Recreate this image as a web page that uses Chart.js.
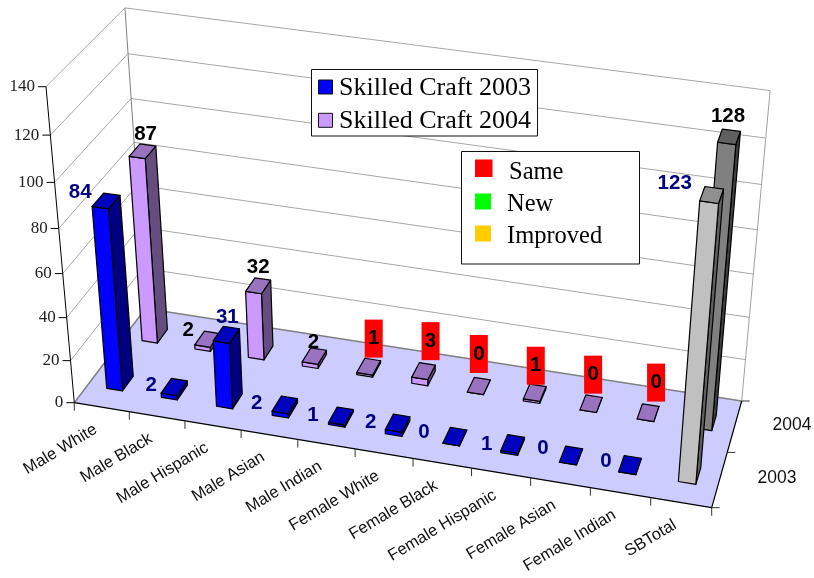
<!DOCTYPE html>
<html>
<head>
<meta charset="utf-8">
<style>body{margin:0;background:#fff}canvas{display:block}</style>
<script src="https://cdn.jsdelivr.net/npm/chart.js@4"></script>
</head>
<body>
<canvas id="myChart" width="814" height="578"></canvas>
<script>
// data
const categories = ["Male White","Male Black","Male Hispanic","Male Asian","Male Indian","Female White","Female Black","Female Hispanic","Female Asian","Female Indian","SBTotal"];
const years = ["2003","2004"];
const craft2003 = [84,2,31,2,1,2,0,1,0,0,123];
const craft2004 = [87,2,32,2,1,3,0,1,0,0,128];
const yTicks = [0,20,40,60,80,100,120,140];
const statusLabels = ["Same","New","Improved"];
const statusColors = ["#FF0000","#00FF00","#FFCC00"];

// colours per bar
const colors2003 = categories.map((c,i) => i == 10 ? "#C0C0C0" : "#0000FF");
const colors2004 = categories.map((c,i) => i == 10 ? "#808080" : "#CC99FF");

// label offsets from the top centre of each bar
const nudge2003 = [[-26,-9],[-23,-2],[1,-17],[-28,-2],[-28,-1],[-27,-1],[-31,-4],[-26,0],[-28,-7],[-24,-4],[-37,-12]];
const nudge2004 = [[3,-17],[-19,-9],[0,-18],[-1,-14],[5,-28],[7,-30],[0,-32],[1,-27],[2,-29],[8,-30],[-1,-20]];
const redFrom = 4, redTo = 9;

// box corners on screen, used to work out the perspective
const O = [74.3,402.7,1], X = [711.7,507.7,1], Y = [46,86.7,1], Z = [145.5,308.5,1];
const XZ = [741.7,401,1], YZ = [123.3,7.3,1], XYZ = [770,85.7,1];

const cross = (p,q) => [p[1]*q[2]-p[2]*q[1], p[2]*q[0]-p[0]*q[2], p[0]*q[1]-p[1]*q[0]];
const dot = (p,q) => p[0]*q[0]+p[1]*q[1]+p[2]*q[2];

// a*X + c*Z - O ~ XZ
const a = dot(cross(Z,XZ),O) / dot(cross(Z,XZ),X);
const c = dot(cross(X,XZ),O) / dot(cross(X,XZ),Z);
const cx = X.map((v,i) => a*v-O[i]);
const cz = Z.map((v,i) => c*v-O[i]);
let cy = [0,0,0];

function proj(u,v,w) {
  const h = [0,1,2].map(i => u*cx[i]+v*cy[i]+w*cz[i]+O[i]);
  return [h[0]/h[2], h[1]/h[2]];
}

// pick the vertical scale that lands closest to the top back corners, right one counts more
let bestErr = Infinity, bestCy = cy;
for (let b = 0.3; b < 3; b += 0.0005) {
  cy = Y.map((v,i) => b*v-O[i]);
  const p = proj(0,1,1), q = proj(1,1,1);
  const err = (p[0]-YZ[0])**2 + (p[1]-YZ[1])**2 + 4*((q[0]-XYZ[0])**2 + (q[1]-XYZ[1])**2);
  if (err < bestErr) { bestErr = err; bestCy = cy; }
}
cy = bestCy;

function shade(hex,k) {
  const r = parseInt(hex.substr(1,2),16), g = parseInt(hex.substr(3,2),16), bl = parseInt(hex.substr(5,2),16);
  return "rgb(" + Math.round(r*k) + "," + Math.round(g*k) + "," + Math.round(bl*k) + ")";
}

function poly(ctx,pts,fill) {
  ctx.beginPath();
  pts.forEach((p,i) => i ? ctx.lineTo(p[0],p[1]) : ctx.moveTo(p[0],p[1]));
  ctx.closePath();
  if (fill) { ctx.fillStyle = fill; ctx.fill(); }
  ctx.stroke();
}

function line(ctx,pts,color,width) {
  ctx.beginPath();
  pts.forEach((p,i) => i ? ctx.lineTo(p[0],p[1]) : ctx.moveTo(p[0],p[1]));
  ctx.strokeStyle = color;
  ctx.lineWidth = width;
  ctx.stroke();
}

const barDepth = 0.15;

const box3d = {
  id: "box3d",
  beforeDatasetsDraw(chart) {
    const ctx = chart.ctx, area = chart.chartArea;
    const xs = chart.scales.x, ys = chart.scales.y, zs = chart.scales.z;
    const nx = p => (p-area.left)/area.width;
    const ny = p => (area.bottom-p)/area.height;
    const nz = val => nx(zs.getPixelForValue(val));
    ctx.save();
    ctx.lineJoin = "round";

    // floor
    ctx.strokeStyle = "rgba(0,0,0,0)";
    poly(ctx,[proj(0,0,0),proj(1,0,0),proj(1,0,1),proj(0,0,1)],"#CCCCFF");

    // grid on the walls
    yTicks.forEach(function(t) {
      const v = ny(ys.getPixelForValue(t));
      line(ctx,[proj(0,v,0),proj(0,v,1),proj(1,v,1)], t == 0 ? "#808080" : "#A6A6A6", t == 0 ? 1.5 : 1);
    });
    line(ctx,[proj(0,0,1),proj(0,1,1)],"#808080",1);
    line(ctx,[proj(1,0,1),proj(1,1,1)],"#A0A0A0",1);

    // axes and ticks
    line(ctx,[proj(0,0,0),proj(0,1,0)],"#000",1);
    line(ctx,[proj(0,0,0),proj(1,0,0),proj(1,0,1)],"#000",1.2);
    ctx.font = "17px 'Liberation Serif'";
    ctx.fillStyle = "#222";
    ctx.textAlign = "right";
    ctx.textBaseline = "middle";
    yTicks.forEach(function(t) {
      const p = proj(0,ny(ys.getPixelForValue(t)),0);
      line(ctx,[p,[p[0]-8,p[1]]],"#000",1);
      ctx.fillText(t,p[0]-11,p[1]);
    });
    for (let i = 0; i <= categories.length; i++) {
      const p = proj(nx(xs.getPixelForValue(i-0.5)),0,0);
      line(ctx,[p,[p[0],p[1]+8]],"#333",1);
    }
    for (let i = 0; i <= years.length; i++) {
      const p = proj(1,0,nz(i-0.5));
      line(ctx,[p,[p[0]+8,p[1]]],"#333",1);
    }
    ctx.font = "16.5px 'Liberation Sans'";
    ctx.fillStyle = "#111";
    categories.forEach(function(name,i) {
      const p = proj(nx(xs.getPixelForValue(i)),0,0);
      ctx.save();
      ctx.translate(p[0]-6,p[1]+21);
      ctx.rotate(-31*Math.PI/180);
      ctx.textAlign = "right";
      ctx.textBaseline = "middle";
      ctx.fillText(name,0,0);
      ctx.restore();
    });
    ctx.font = "17.5px 'Liberation Sans'";
    ctx.textAlign = "left";
    years.forEach(function(y,i) {
      const p = proj(1,0,nz(i));
      ctx.fillText(y,p[0]+38,p[1]-1);
    });

    // bars, back row first
    const tops = [[],[]];
    [1,0].forEach(function(d) {
      const z0 = nz(d)-barDepth/2, z1 = nz(d)+barDepth/2;
      chart.getDatasetMeta(d).data.forEach(function(bar,j) {
        const x0 = nx(bar.x-bar.width/2), x1 = nx(bar.x+bar.width/2);
        const v0 = ny(bar.base), v1 = ny(bar.y);
        const col = chart.data.datasets[d].backgroundColor[j];
        ctx.strokeStyle = "#000";
        ctx.lineWidth = 1.2;
        poly(ctx,[proj(x1,v0,z0),proj(x1,v0,z1),proj(x1,v1,z1),proj(x1,v1,z0)],shade(col,0.5));
        poly(ctx,[proj(x0,v0,z0),proj(x1,v0,z0),proj(x1,v1,z0),proj(x0,v1,z0)],col);
        poly(ctx,[proj(x0,v1,z0),proj(x1,v1,z0),proj(x1,v1,z1),proj(x0,v1,z1)],shade(col,0.75));
        tops[d][j] = proj((x0+x1)/2,v1,(z0+z1)/2);
      });
    });

    // value labels
    ctx.font = "bold 20.5px 'Liberation Sans'";
    ctx.textAlign = "center";
    ctx.textBaseline = "middle";
    craft2004.forEach(function(val,j) {
      const lx = tops[1][j][0]+nudge2004[j][0], ly = tops[1][j][1]+nudge2004[j][1];
      if (j >= redFrom && j <= redTo) {
        ctx.fillStyle = "#FF0000";
        ctx.fillRect(lx-9,ly-19,18,38);
      }
      ctx.fillStyle = "#000";
      ctx.fillText(val,lx,ly);
    });
    ctx.fillStyle = "#000080";
    craft2003.forEach(function(val,j) {
      ctx.fillText(val,tops[0][j][0]+nudge2003[j][0],tops[0][j][1]+nudge2003[j][1]);
    });

    // series legend
    ctx.fillStyle = "#fff";
    ctx.strokeStyle = "#111";
    ctx.lineWidth = 1;
    ctx.fillRect(311.5,69.5,226,66.5);
    ctx.strokeRect(311.5,69.5,226,66.5);
    ctx.font = "26px 'Liberation Serif'";
    ctx.textAlign = "left";
    ctx.textBaseline = "alphabetic";
    chart.data.datasets.forEach(function(ds,i) {
      const top = 80+i*33.3;
      ctx.fillStyle = ds.backgroundColor[0];
      ctx.fillRect(318.5,top,14,14);
      ctx.strokeRect(318.5,top,14,14);
      ctx.fillStyle = "#000";
      ctx.fillText(ds.label,339,top+15);
    });

    // status legend
    ctx.font = "24.5px 'Liberation Serif'";
    ctx.fillStyle = "#fff";
    ctx.fillRect(461.5,151.5,178,112.5);
    ctx.strokeRect(461.5,151.5,178,112.5);
    const swatchY = [159.5,193.5,225.5], swatchS = [17.5,16,16], textX = [509,507,507], textY = [179,210.5,242.5];
    statusLabels.forEach(function(s,i) {
      ctx.fillStyle = statusColors[i];
      ctx.fillRect(475,swatchY[i],swatchS[i],swatchS[i]);
      ctx.fillStyle = "#000";
      ctx.fillText(s,textX[i],textY[i]);
    });

    ctx.restore();
    return false;
  }
};

new Chart(document.getElementById("myChart"), {
  type: "bar",
  data: {
    labels: categories,
    datasets: [
      {label: "Skilled Craft 2003", data: craft2003, backgroundColor: colors2003, grouped: false, barPercentage: 0.29, categoryPercentage: 1},
      {label: "Skilled Craft 2004", data: craft2004, backgroundColor: colors2004, grouped: false, barPercentage: 0.29, categoryPercentage: 1}
    ]
  },
  plugins: [box3d],
  options: {
    responsive: false,
    animation: false,
    plugins: {legend: {display: false}, tooltip: {enabled: false}},
    scales: {
      x: {display: false},
      y: {display: false, min: 0, max: 140, ticks: {stepSize: 20}},
      z: {type: "category", axis: "x", position: "bottom", labels: years, offset: true, display: false}
    }
  }
});
</script>
</body>
</html>
